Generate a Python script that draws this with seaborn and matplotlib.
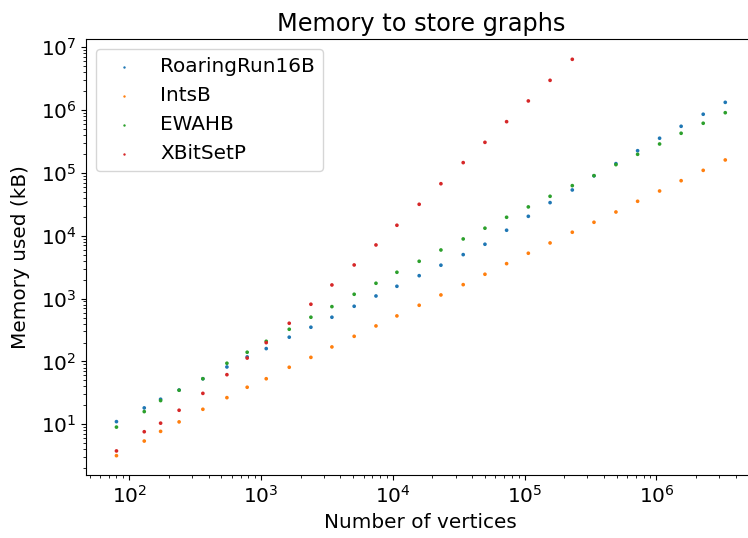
import numpy as np
import pandas as pd
import matplotlib
matplotlib.use("Agg")
import matplotlib.pyplot as plt
import seaborn as sns

# Graph sizes (number of vertices)
vertices = [80, 130, 173, 239, 362, 551, 785, 1095, 1637, 2390, 3450, 5090,
            7450, 10740, 15850, 23170, 34200, 50000, 73000, 106700, 156000,
            230000, 336000, 493000, 720000, 1057000, 1540000, 2265000, 3330000]

# Memory used per representation (kB)
roaring_run16b = [11.0, 18.2, 25, 35, 53, 81.6, 118, 160, 243, 350, 505, 755,
                  1100, 1570, 2316, 3400, 5010, 7330, 12250, 20400, 33700,
                  53600, 90000, 140700, 226000, 357000, 553000, 860000, 1330000]
ints_b = [3.16, 5.4, 7.7, 10.9, 17.3, 26.5, 38.8, 53, 80.7, 116, 170, 251,
          367, 530, 783, 1143, 1667, 2440, 3600, 5270, 7690, 11380, 16400,
          23900, 35400, 51600, 75300, 110000, 161000]
ewah_b = [9.0, 15.9, 23.8, 34.8, 53, 93.5, 140, 209, 325, 505, 745, 1172,
          1754, 2625, 3925, 5940, 8900, 13200, 19700, 28800, 42500, 62800,
          90600, 135600, 198000, 289000, 428000, 618000, 910000]
xbitset_p = [3.76, 7.6, 10.4, 16.7, 31, 61.5, 113, 199, 405, 813, 1648, 3430,
             7140, 14700, 31700, 67400, 146000, 307000, 655000, 1400000,
             2980000, 6440000]

series = {
    "RoaringRun16B": roaring_run16b,
    "IntsB": ints_b,
    "EWAHB": ewah_b,
    "XBitSetP": xbitset_p,
}

frames = []
for name, vals in series.items():
    frames.append(pd.DataFrame({
        "vertices": vertices[:len(vals)],
        "memory": vals,
        "structure": name,
    }))
df = pd.concat(frames, ignore_index=True)

plt.rcParams["font.family"] = ["DejaVu Sans"]
plt.rcParams["font.size"] = 14.4

fig = plt.figure(figsize=(7.48, 5.38), dpi=100)
ax = fig.add_axes([0.1150, 0.1162, 0.8953, 0.8104])

palette = sns.color_palette("tab10", 4)
sns.scatterplot(data=df, x="vertices", y="memory", hue="structure",
                hue_order=list(series.keys()), palette=palette,
                s=7, linewidth=0, ax=ax, legend=False)

ax.set_xscale("log")
ax.set_yscale("log")
ax.margins(0.05)

handles = [ax.scatter([], [], s=3, color=c, linewidth=0) for c in palette]
ax.legend(handles, list(series.keys()), loc="upper left", fontsize=14.4)

ax.set_title("Memory to store graphs", fontsize=17.3)
ax.set_xlabel("Number of vertices", fontsize=14.4)
ax.set_ylabel("Memory used (kB)", fontsize=14.4, labelpad=8)

fig.savefig("out.png", dpi=100)
